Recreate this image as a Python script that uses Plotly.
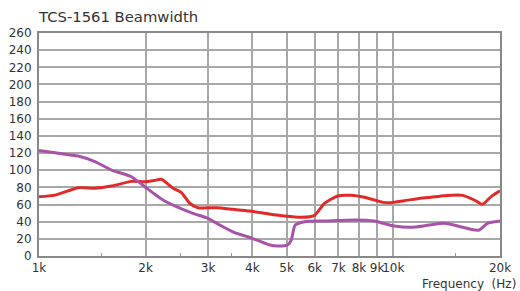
import plotly.graph_objects as go

# Red series (Hz, degrees)
red_freq = [1000, 1109, 1290, 1438, 1602, 1824, 1989, 2113, 2216, 2389, 2523, 2663, 2810,
            3168, 3526, 3929, 4454, 4932, 5495, 5991, 6392, 6967, 7599, 8286, 9390, 9851,
            10740, 11705, 12773, 13921, 15676, 16913, 17845, 18847, 20000]
red_vals = [69, 71, 79.6, 79, 81.5, 87, 86.5, 88, 89.4, 79, 74, 61.5, 56.3,
            56.3, 54.4, 52.4, 49, 46.6, 45.1, 47.4, 61.4, 70, 70.7, 68.4, 62.5, 62.2,
            64.5, 66.8, 68.4, 70.3, 70.7, 65.3, 60.2, 69, 76]

# Purple series
pur_freq = [1000, 1109, 1290, 1438, 1602, 1824, 1989, 2113, 2239, 2443, 2720, 2998, 3236,
            3565, 3929, 4454, 4721, 5039, 5150, 5285, 5614, 6392, 7764, 8841, 9390, 10065,
            11216, 12494, 13921, 15177, 16554, 17471, 18435, 20000]
pur_vals = [123, 120.4, 116.5, 110, 100.2, 92.4, 80.8, 72.5, 65.3, 57.5, 49.7, 43.9, 36.1,
            27.2, 21.8, 13.2, 11.7, 13.2, 18.6, 36.1, 40, 40.8, 42, 40.8, 38, 35,
            33.4, 35.8, 38.1, 35, 31.1, 30.3, 38.1, 40.8]

x_tickvals = [1000, 2000, 3000, 4000, 5000, 6000, 7000, 8000, 9000, 10000, 20000]
x_ticktext = ["1k", "2k", "3k", "4k", "5k", "6k", "7k", "8k", "9k", "10k", "20k"]
x_minor = [1500, 2500, 3500, 15000]
y_tickvals = list(range(0, 261, 20))

FONT = "DejaVu Sans"

fig = go.Figure()
fig.add_trace(go.Scatter(x=red_freq, y=red_vals, mode="lines",
                         line=dict(color="#e02a2a", width=3, shape="spline", smoothing=0.6),
                         showlegend=False, hoverinfo="skip"))
fig.add_trace(go.Scatter(x=pur_freq, y=pur_vals, mode="lines",
                         line=dict(color="#a653a8", width=3, shape="spline", smoothing=0.6),
                         showlegend=False, hoverinfo="skip"))

fig.update_layout(
    width=520, height=291,
    margin=dict(l=39, r=20, t=33, b=35),
    paper_bgcolor="white", plot_bgcolor="white",
    font=dict(family=FONT, size=12, color="#333333"),
    title=dict(text="TCS-1561 Beamwidth", x=0, xanchor="left", xref="paper",
               y=1, yref="container", yanchor="top", pad=dict(t=12, l=0),
               font=dict(family=FONT, size=14.8, color="#333333")),
    xaxis=dict(type="log", range=[3, 4.30103], tickvals=x_tickvals, ticktext=x_ticktext,
               tickangle=0, automargin=False,
               showgrid=True, gridcolor="#a8a8a8", gridwidth=1.5,
               showline=True, linecolor="#888888", linewidth=2, mirror=True,
               ticks="", tickfont=dict(size=12, color="#333333"),
               minor=dict(tickvals=x_minor, ticks="inside", ticklen=3, tickcolor="#999999",
                          showgrid=False),
               zeroline=False, fixedrange=True),
    yaxis=dict(range=[0, 260], tickvals=y_tickvals, automargin=False,
               showgrid=True, gridcolor="#a8a8a8", gridwidth=1.5,
               showline=True, linecolor="#888888", linewidth=2, mirror=True,
               ticks="", ticklabelstandoff=3, tickfont=dict(size=12, color="#333333"),
               zeroline=False, fixedrange=True),
    annotations=[dict(text="Frequency\u00a0\u00a0(Hz)", x=1, xref="paper", xanchor="right",
                      y=0, yref="paper", yanchor="top", yshift=-19, xshift=18,
                      showarrow=False, font=dict(family=FONT, size=12, color="#333333"))],
)

fig.write_html("out.html", config={"displayModeBar": False},
               post_script="document.body.style.margin='0';document.body.style.overflow='hidden';")
